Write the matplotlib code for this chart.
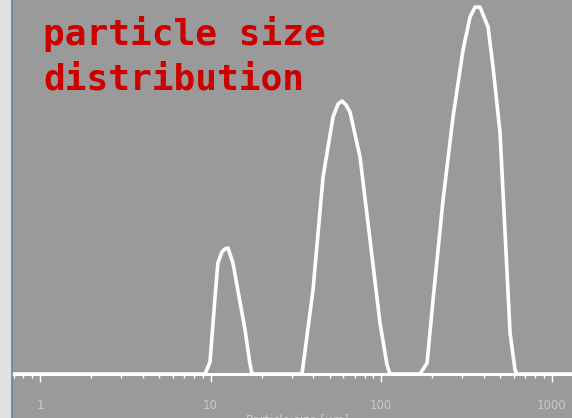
import matplotlib
matplotlib.use("Agg")
import matplotlib.pyplot as plt
from matplotlib.ticker import LogLocator, FixedLocator, NullFormatter, FixedFormatter
from matplotlib.lines import Line2D

# Particle size (µm) and volume density (%)
size_um = [0.6,
           9.28, 9.93, 10.63, 11.04, 11.67, 12.16, 12.66, 13.54, 14.70, 15.94, 17.0, 17.52,
           34.4, 39.9, 45.7, 52.3, 55.95, 59.1, 62.3, 65.8, 75.3, 86.2, 98.6, 108.4, 112.9,
           169.3, 186.2, 201.8, 231.0, 264.4, 302.6, 332.7, 355.9, 380.7, 424.2, 453.9,
           498.9, 533.8, 571.0, 610.8, 627.6,
           1500]
volume_pct = [0.0,
              0.00, 0.40, 2.57, 3.70, 4.07, 4.17, 4.20, 3.70, 2.57, 1.47, 0.37, 0.00,
              0.00, 2.80, 6.57, 8.57, 9.00, 9.10, 8.97, 8.73, 7.23, 4.47, 1.70, 0.30, 0.00,
              0.00, 0.37, 2.47, 5.80, 8.57, 10.80, 11.90, 12.23, 12.23, 11.57, 10.23,
              8.03, 4.70, 1.37, 0.13, 0.00,
              0.0]
decade_ticks = [1, 10, 100, 1000]
decade_labels = ["1", "10", "100", "1000"]
title_text = "particle size\ndistribution"
xlabel_text = "Particle size [µm]"

W, H = 572, 418
fig = plt.figure(figsize=(W / 100, H / 100), dpi=100, facecolor="#e1e1e1")
ax = fig.add_axes([12 / W, 0, 1 - 12 / W, 1])
ax.set_facecolor("#9a9a9a")

ax.plot(size_um, volume_pct, color="white", lw=2.6, solid_joinstyle="round", zorder=3)

ax.set_xscale("log")
ax.set_xlim(0.685, 1318)
ax.set_ylim(-44 / 30, 374 / 30)

for s in ["top", "left", "right"]:
    ax.spines[s].set_visible(False)
ax.spines["bottom"].set_position(("data", 0))
ax.spines["bottom"].set_color("white")
ax.spines["bottom"].set_linewidth(2.2)
ax.spines["bottom"].set_zorder(2)

ax.xaxis.set_major_locator(FixedLocator(decade_ticks))
ax.xaxis.set_major_formatter(FixedFormatter(decade_labels))
ax.xaxis.set_minor_locator(LogLocator(base=10, subs=range(2, 10), numticks=20))
ax.xaxis.set_minor_formatter(NullFormatter())
ax.tick_params(axis="x", which="major", length=5.8, width=1, color="white",
               labelcolor="#c9c9c9", labelsize=8.5, pad=12)
ax.tick_params(axis="x", which="minor", length=3, width=1, color="white")
ax.set_yticks([])

ax.text(31 / 560, 1 - 90 / H, title_text, transform=ax.transAxes,
        color="#cc0000", fontsize=26, fontweight="bold", family="DejaVu Sans Mono",
        va="baseline", ha="left", linespacing=1.42)

fig.text(0.52, 4 / H, xlabel_text, color="#c9c9c9", fontsize=8.5, ha="center", va="top")

fig.add_artist(Line2D([11.5 / W, 11.5 / W], [0, 1], color="#5b86b0", lw=1.2,
                      transform=fig.transFigure))

fig.savefig("out.png", dpi=100, facecolor=fig.get_facecolor())
